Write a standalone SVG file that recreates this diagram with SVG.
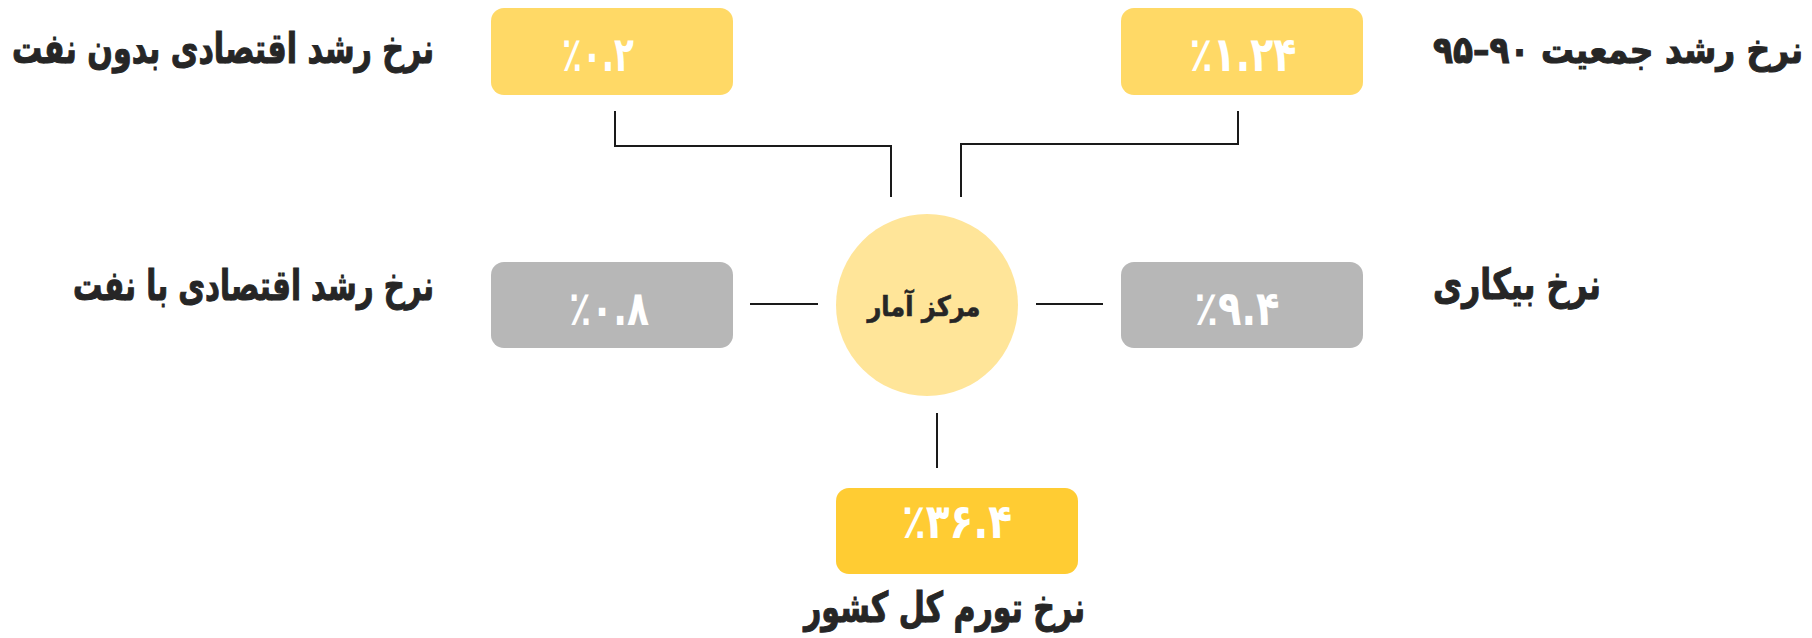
<svg xmlns="http://www.w3.org/2000/svg" width="1812" height="638" viewBox="0 0 1812 638">
<style>
.box{stroke:none}
.y1{fill:#FFD966}
.y2{fill:#FFCC33}
.g{fill:#B7B7B7}
.val{font-family:"DejaVu Sans Condensed","DejaVu Sans",sans-serif;font-weight:bold;font-size:48px;fill:#FFFFFF;text-anchor:middle;direction:ltr;unicode-bidi:bidi-override}
.lbl{font-family:"DejaVu Sans Condensed","DejaVu Sans",sans-serif;font-weight:bold;font-size:42px;fill:#262626;stroke:#262626;stroke-width:1;direction:rtl}
.ctr{font-family:"DejaVu Sans Condensed","DejaVu Sans",sans-serif;font-weight:bold;font-size:28px;fill:#262626;stroke:#262626;stroke-width:0.6;text-anchor:middle;direction:rtl}
.con{fill:none;stroke:#1A1A1A;stroke-width:2}
</style>
<rect width="1812" height="638" fill="#FFFFFF"/>
<g id="connectors">
<polyline class="con" points="615,111 615,146 891,146 891,197"/>
<polyline class="con" points="1238,111 1238,144 961,144 961,197"/>
<line class="con" x1="750" y1="304" x2="818" y2="304"/>
<line class="con" x1="1036" y1="304" x2="1103" y2="304"/>
<line class="con" x1="937" y1="413" x2="937" y2="468"/>
</g>
<g id="center">
<circle cx="927" cy="305" r="91" fill="#FFE599"/>
<text class="ctr" x="924" y="316" textLength="113" lengthAdjust="spacingAndGlyphs">مرکز آمار</text>
</g>
<g id="node-oil-free">
<rect class="box y1" x="491" y="8" width="242" height="87" rx="13"/>
<text class="val" x="598" y="71" textLength="72" lengthAdjust="spacingAndGlyphs">٪۰.۲</text>
<text class="lbl" x="434" y="63" text-anchor="start" textLength="422" lengthAdjust="spacingAndGlyphs">نرخ رشد اقتصادی بدون نفت</text>
</g>
<g id="node-population">
<rect class="box y1" x="1121" y="8" width="242" height="87" rx="13"/>
<text class="val" x="1243" y="71" textLength="107" lengthAdjust="spacingAndGlyphs">٪۱.۲۴</text>
<text class="lbl" x="1433" y="63" text-anchor="end" style="font-size:38px" textLength="370" lengthAdjust="spacingAndGlyphs">نرخ رشد جمعیت ۹۰–۹۵</text>
</g>
<g id="node-with-oil">
<rect class="box g" x="491" y="262" width="242" height="86" rx="13"/>
<text class="val" x="609" y="325" textLength="80" lengthAdjust="spacingAndGlyphs">٪۰.۸</text>
<text class="lbl" x="434" y="300" text-anchor="start" textLength="361" lengthAdjust="spacingAndGlyphs">نرخ رشد اقتصادی با نفت</text>
</g>
<g id="node-unemployment">
<rect class="box g" x="1121" y="262" width="242" height="86" rx="13"/>
<text class="val" x="1237" y="325" textLength="85" lengthAdjust="spacingAndGlyphs">٪۹.۴</text>
<text class="lbl" x="1433" y="299" text-anchor="end" textLength="168" lengthAdjust="spacingAndGlyphs">نرخ بیکاری</text>
</g>
<g id="node-inflation">
<rect class="box y2" x="836" y="488" width="242" height="86" rx="13"/>
<text class="val" x="957" y="538" textLength="110" lengthAdjust="spacingAndGlyphs">٪۳۶.۴</text>
<text class="lbl" x="1085" y="622" text-anchor="start" textLength="281" lengthAdjust="spacingAndGlyphs">نرخ تورم کل کشور</text>
</g>
</svg>
